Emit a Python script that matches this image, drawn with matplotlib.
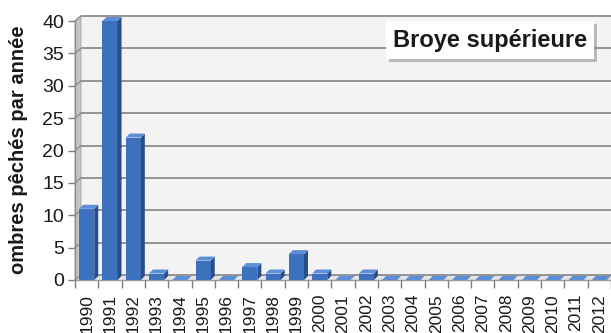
import matplotlib.pyplot as plt
from matplotlib.patches import Polygon, Rectangle

years = [str(y) for y in range(1990, 2013)]
counts = [11, 40, 22, 1, 0, 3, 0, 2, 1, 4, 1, 0, 1,
          0, 0, 0, 0, 0, 0, 0, 0, 0, 0]
y_ticks = [0, 5, 10, 15, 20, 25, 30, 35, 40]
title = "Broye supérieure"
y_label = "ombres pêchés par année"

W, H = 611, 333
plt.rcParams['font.family'] = ['Liberation Sans', 'DejaVu Sans']

fig = plt.figure(figsize=(W / 100, H / 100), dpi=100)
ax = fig.add_axes([75 / W, 53 / H, 536 / W, 259 / H])
n = len(years)
ymax = y_ticks[-1]
ax.set_xlim(-0.5, n - 0.5)
ax.set_ylim(0, ymax)
ax.patch.set_visible(False)

# pixel -> data scale, used for the fake 3d depth
px_x = 536 / n
px_y = 259 / ymax
wdx, wdy = 6 / px_x, 5 / px_y      # walls
bdx, bdy = 4 / px_x, 4 / px_y      # bars
bw = 0.65

x0, x1 = -0.5, n - 0.5

# back wall, side wall and floor
ax.add_patch(Rectangle((x0 + wdx, wdy), n, ymax, facecolor='#f3f3f3',
                       edgecolor='none', clip_on=False, zorder=0))
ax.add_patch(Polygon([(x0, 0), (x0 + wdx, wdy), (x0 + wdx, ymax + wdy), (x0, ymax)],
                     closed=True, facecolor='#c4c4c4', edgecolor='#a8a8a8',
                     lw=0.6, clip_on=False, zorder=0.5))
ax.add_patch(Polygon([(x0, 0), (x1, 0), (x1 + wdx, wdy), (x0 + wdx, wdy)],
                     closed=True, facecolor='#e4e4e4', edgecolor='none',
                     clip_on=False, zorder=0.5))

for v in y_ticks:
    ax.plot([x0 + wdx, x1 + wdx], [v + wdy, v + wdy], color='#8c8c8c',
            lw=1.3, clip_on=False, zorder=1, solid_capstyle='butt')
    ax.plot([x0, x0 + wdx], [v, v + wdy], color='#8c8c8c', lw=1.0,
            clip_on=False, zorder=1)

# 3d columns
for i, v in enumerate(counts):
    l, r = i - bw / 2, i + bw / 2
    ax.add_patch(Rectangle((l, 0), bw, v, facecolor='#3e71bd', edgecolor='none',
                           clip_on=False, zorder=3))
    ax.add_patch(Polygon([(r, 0), (r + bdx, bdy), (r + bdx, v + bdy), (r, v)],
                         closed=True, facecolor='#264f8a', edgecolor='none',
                         clip_on=False, zorder=3))
    ax.add_patch(Polygon([(l, v), (r, v), (r + bdx, v + bdy), (l + bdx, v + bdy)],
                         closed=True, facecolor='#5d8fd8', edgecolor='none',
                         clip_on=False, zorder=3))

for side in ['top', 'right', 'bottom']:
    ax.spines[side].set_visible(False)
ax.spines['left'].set_color('#8c8c8c')
ax.spines['left'].set_linewidth(1.0)

ax.set_yticks(y_ticks)
ax.tick_params(axis='y', length=5, width=1, color='#7f7f7f', labelsize=14,
               labelcolor='#1a1a1a', pad=3)
ax.set_xticks(range(n))
ax.set_xticklabels(years, rotation=90, fontsize=12.5, color='#1a1a1a', va='top')
ax.set_xticks([i - 0.5 for i in range(n + 1)], minor=True)
ax.tick_params(axis='x', which='major', length=0, pad=10)
ax.tick_params(axis='x', which='minor', length=6, width=1, color='#7f7f7f')
ax.plot([x0, x1], [0, 0], color='#9a9a9a', lw=1.0, clip_on=False, zorder=2)

fig.text(19 / W, 1 - 150 / H, y_label, rotation=90, ha='center', va='center',
         fontsize=14.5, fontweight='bold', color='#1a1a1a')

# label box with a soft drop shadow
t = fig.text(490 / W, 1 - 40 / H, title, ha='center', va='center', fontsize=17,
             fontweight='bold', color='#1a1a1a', zorder=5,
             bbox=dict(boxstyle='square,pad=0.3', facecolor='white',
                       edgecolor='none'))
fig.canvas.draw()
bb = t.get_bbox_patch().get_window_extent()
fig.patches.append(Rectangle((bb.x0 + 3, bb.y0 - 3), bb.width, bb.height,
                             transform=None, facecolor='#8a8a8a', alpha=0.55,
                             edgecolor='none', zorder=4))

fig.savefig('out.png', dpi=100)
